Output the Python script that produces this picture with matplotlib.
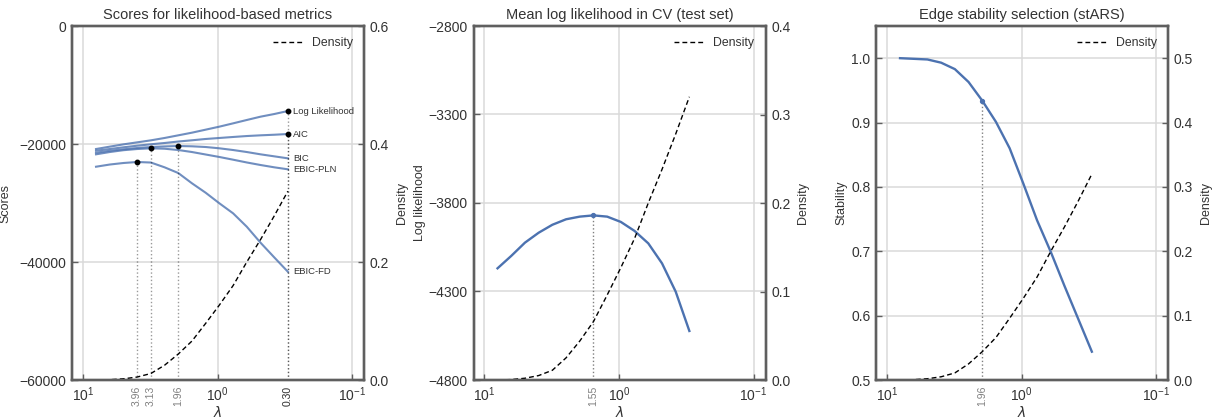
import numpy as np
import matplotlib
matplotlib.use("Agg")
import matplotlib.pyplot as plt
import matplotlib.transforms as mtransforms

plt.rcParams['font.family'] = ['Liberation Sans', 'DejaVu Sans']
plt.rcParams['axes.unicode_minus'] = True

# ---------------- data ----------------
lambdas = [8.000, 6.326, 5.003, 3.958, 3.130, 2.476, 1.958, 1.549,
           1.225, 0.969, 0.766, 0.606, 0.479, 0.379, 0.300]

density = [0.000, 0.0005, 0.002, 0.005, 0.011, 0.025, 0.044, 0.066,
           0.096, 0.127, 0.160, 0.200, 0.238, 0.278, 0.320]

score_names = ["Log Likelihood", "AIC", "BIC", "EBIC-PLN", "EBIC-FD"]
loglik = [-20850, -20450, -20060, -19720, -19380, -18980, -18530, -18080,
          -17570, -17060, -16500, -15930, -15370, -14920, -14410]
aic = [-21140, -20850, -20560, -20290, -20050, -19830, -19580, -19370,
       -19150, -18980, -18810, -18650, -18530, -18430, -18310]
bic = [-21480, -21150, -20900, -20680, -20510, -20410, -20340, -20390,
       -20510, -20730, -21020, -21360, -21750, -22090, -22430]
ebic_pln = [-21750, -21360, -21050, -20850, -20730, -20800, -21020, -21360,
            -21780, -22200, -22660, -23130, -23560, -23950, -24290]
ebic_fd = [-23850, -23480, -23220, -23050, -23140, -23950, -24920, -26660,
           -28260, -30050, -31750, -34020, -36730, -39210, -41650]

cv_loglik = [-4169, -4099, -4024, -3968, -3923, -3892, -3877, -3870,
             -3877, -3907, -3958, -4028, -4141, -4301, -4523]

stability = [1.000, 0.999, 0.998, 0.993, 0.983, 0.963, 0.934, 0.901,
             0.860, 0.805, 0.748, 0.699, 0.646, 0.595, 0.544]
stars_threshold_idx = 6  # lambda = 1.96

# ---------------- style ----------------
BLUE = '#4c72b0'
SPINE = '#5f5f5f'
TXT = '#333333'
GRID = '#dadada'

fig = plt.figure(figsize=(12.13, 4.19), dpi=100)
W, H = 1213, 419
lefts = [72, 473.5, 876]
axw, axh = 292, 354
bottom = 419 - 380

XLIM = (12.07, 0.0815)


def style_axes(ax, ax2):
    for a in (ax, ax2):
        for s in a.spines.values():
            s.set_color(SPINE)
            s.set_linewidth(1.7)
        a.tick_params(axis='both', which='major', direction='in', length=4,
                      width=1.0, color=SPINE, labelsize=10, labelcolor=TXT, pad=4)
        a.tick_params(axis='x', which='minor', length=0)
    ax.set_xscale('log')
    ax.set_xlim(*XLIM)
    ax.set_xticks([10, 1, 0.1])
    ax.xaxis.set_minor_locator(matplotlib.ticker.NullLocator())
    ax.grid(True, which='major', color=GRID, linewidth=1.1)
    ax.set_axisbelow(True)
    ax.set_xlabel(r'$\lambda$', fontsize=10, color=TXT)
    ax.xaxis.set_label_coords(0.5, -0.072)


def lam_labels(ax, lams, alpha=0.5):
    tr = mtransforms.blended_transform_factory(ax.transData, ax.transAxes)
    for lam in lams:
        ax.text(lam, -0.017, f"{lam:.2f}", transform=tr, rotation=90,
                ha='center', va='top', fontsize=7.5, color='k', alpha=alpha)


def density_axis(ax, ylim, ticks):
    ax2 = ax.twinx()
    ax2.plot(lambdas, density, color='k', linestyle='--', linewidth=1.0,
             dashes=(3.5, 2.2), label='Density')
    ax2.set_ylim(*ylim)
    ax2.set_yticks(ticks)
    ax2.set_yticklabels([f"{t:.1f}" for t in ticks])
    ax2.set_ylabel('Density', fontsize=9, color=TXT, labelpad=5)
    leg = ax2.legend(loc='upper right', frameon=False, fontsize=8.8,
                     handlelength=2.4, borderaxespad=0.5)
    for t in leg.get_texts():
        t.set_color(TXT)
    return ax2


# ---------------- panel 1 ----------------
ax1 = fig.add_axes([lefts[0] / W, bottom / H, axw / W, axh / H])
series = [loglik, aic, bic, ebic_pln, ebic_fd]
ymin1 = -60000
for name, vals in zip(score_names, series):
    ax1.plot(lambdas, vals, color=BLUE, alpha=0.8, linewidth=1.5)
    ax1.annotate(name, (lambdas[-1], vals[-1]), xytext=(4, 0),
                 textcoords='offset points', fontsize=6.8, color=TXT,
                 va='center', ha='left')
sel_lams = []
for name, vals in zip(score_names, series):
    i = int(np.argmax(vals))
    ax1.vlines(lambdas[i], ymin1, vals[i], colors='k', linestyles=':',
               linewidth=1.0, alpha=0.4)
    ax1.plot(lambdas[i], vals[i], 'o', color='k', markersize=3.2)
    sel_lams.append(lambdas[i])
ax1.set_ylim(ymin1, 0)
ax1.set_yticks([0, -20000, -40000, -60000])
ax1.set_ylabel('Scores', fontsize=9, color=TXT, labelpad=6)
ax1.set_title('Scores for likelihood-based metrics', fontsize=10.5, color=TXT, pad=5)
ax1b = density_axis(ax1, (0, 0.6), [0.0, 0.2, 0.4, 0.6])
style_axes(ax1, ax1b)
lam_labels(ax1, sel_lams)

# ---------------- panel 2 ----------------
ax2 = fig.add_axes([lefts[1] / W, bottom / H, axw / W, axh / H])
ax2.plot(lambdas, cv_loglik, color=BLUE, linewidth=1.7)
i2 = int(np.argmax(cv_loglik))
ymin2 = -4800
ax2.vlines(lambdas[i2], ymin2, cv_loglik[i2], colors='k', linestyles=':',
           linewidth=1.0, alpha=0.5)
ax2.plot(lambdas[i2], cv_loglik[i2], 'o', color=BLUE, markersize=2.8)
ax2.set_ylim(ymin2, -2800)
ax2.set_yticks([-2800, -3300, -3800, -4300, -4800])
ax2.set_ylabel('Log likelihood', fontsize=9, color=TXT, labelpad=2)
ax2.set_title('Mean log likelihood in CV (test set)', fontsize=10.5, color=TXT, pad=5)
ax2b = density_axis(ax2, (0, 0.4), [0.0, 0.1, 0.2, 0.3, 0.4])
style_axes(ax2, ax2b)
lam_labels(ax2, [lambdas[i2]])

# ---------------- panel 3 ----------------
ax3 = fig.add_axes([lefts[2] / W, bottom / H, axw / W, axh / H])
ax3.plot(lambdas, stability, color=BLUE, linewidth=1.7)
i3 = stars_threshold_idx
ymin3 = 0.5
ax3.vlines(lambdas[i3], ymin3, stability[i3], colors='k', linestyles=':',
           linewidth=1.0, alpha=0.5)
ax3.plot(lambdas[i3], stability[i3], 'o', color=BLUE, markersize=2.8)
ax3.set_ylim(ymin3, 1.05)
ax3.set_yticks([0.5, 0.6, 0.7, 0.8, 0.9, 1.0])
ax3.set_yticklabels(['0.5', '0.6', '0.7', '0.8', '0.9', '1.0'])
ax3.set_ylabel('Stability', fontsize=9, color=TXT, labelpad=3)
ax3.set_title('Edge stability selection (stARS)', fontsize=10.5, color=TXT, pad=5)
ax3b = density_axis(ax3, (0, 0.55), [0.0, 0.1, 0.2, 0.3, 0.4, 0.5])
style_axes(ax3, ax3b)
lam_labels(ax3, [lambdas[i3]])

fig.savefig('out.png', dpi=100)
